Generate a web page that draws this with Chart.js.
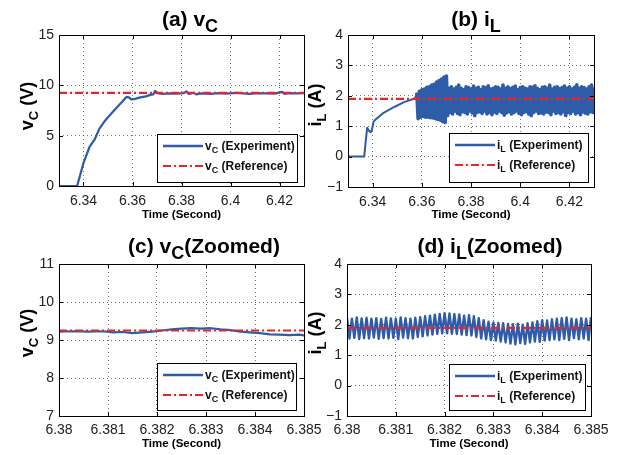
<!DOCTYPE html>
<html lang="en">
<head>
<meta charset="UTF-8">
<title>vC and iL start-up response</title>
<script src="https://cdn.jsdelivr.net/npm/chart.js"></script>
<style>
  body { margin: 0; background: #fff; }
  #wrap { position: relative; width: 624px; height: 455px; }
  #wrap canvas { position: absolute; left: 0; top: 0; }
</style>
</head>
<body>
<div id="wrap">
  <canvas id="pa" width="624" height="455"></canvas>
  <canvas id="pb" width="624" height="455"></canvas>
  <canvas id="pc" width="624" height="455"></canvas>
  <canvas id="pd" width="624" height="455"></canvas>
</div>
<script>
// ---- data ----
// (a) capacitor voltage over the full window
const vcTime = [6.33, 6.3374, 6.34, 6.3425, 6.3445, 6.3465, 6.3485, 6.351, 6.3532, 6.3555, 6.3575, 6.3585,
  6.3595, 6.361, 6.3632, 6.3655, 6.3672, 6.3685, 6.3692, 6.3705, 6.372, 6.375, 6.378, 6.381, 6.382, 6.383,
  6.385, 6.386, 6.388, 6.392, 6.395, 6.398, 6.402, 6.405, 6.408, 6.411, 6.414, 6.418, 6.421, 6.422, 6.424,
  6.427, 6.43];
const vcExp = [0, 0, 2.3, 3.9, 4.6, 5.7, 6.4, 7.1, 7.7, 8.3, 8.85, 8.8,
  8.6, 8.65, 8.8, 8.9, 9.05, 9.1, 9.45, 9.2, 9.15, 9.2, 9.18, 9.22, 9.4, 9.15,
  9.25, 9.1, 9.2, 9.15, 9.22, 9.18, 9.25, 9.2, 9.15, 9.22, 9.2, 9.18, 9.35, 9.15, 9.22,
  9.2, 9.22];
const vcRef = 9.25;

// (b) inductor current: start-up ramp, then ripple band (peak / trough pairs)
const ilRampTime = [6.33, 6.3366, 6.3372, 6.3378, 6.3385, 6.3392, 6.3398, 6.3404, 6.3412, 6.3441, 6.349, 6.353, 6.3572, 6.358];
const ilRamp = [0, 0, 0.5, 0.95, 0.85, 0.8, 0.9, 1.15, 1.22, 1.42, 1.64, 1.8, 1.91, 2.1];
const ilBandStart = 6.358;   // first ripple peak
const ilBandStep = 0.001;    // spacing of the plotted peaks
const ilPeaks = [2.1, 2.15, 2.2, 2.22, 2.28, 2.3, 2.35, 2.38, 2.45, 2.5, 2.55, 2.62, 2.65,
  2.25, 2.3, 2.22, 2.28, 2.35, 2.25, 2.2, 2.3, 2.27, 2.22,
  2.32, 2.25, 2.28, 2.2, 2.3, 2.26, 2.33, 2.22, 2.25, 2.3,
  2.28, 2.22, 2.35, 2.25, 2.3, 2.24, 2.28, 2.32, 2.2, 2.27,
  2.3, 2.25, 2.22, 2.3, 2.28, 2.33, 2.25, 2.2, 2.28, 2.3,
  2.25, 2.35, 2.22, 2.28, 2.3, 2.24, 2.27, 2.32, 2.25, 2.3,
  2.22, 2.28, 2.36, 2.25, 2.3, 2.27, 2.22, 2.3, 2.35, 2.28];
const ilTroughs = [1.25, 1.3, 1.32, 1.3, 1.3, 1.28, 1.27, 1.25, 1.22, 1.2, 1.15, 1.12, 1.35,
  1.45, 1.4, 1.5, 1.42, 1.38, 1.48, 1.45, 1.4, 1.5, 1.44,
  1.35, 1.45, 1.48, 1.42, 1.5, 1.4, 1.45, 1.38, 1.47, 1.42,
  1.5, 1.45, 1.36, 1.44, 1.48, 1.4, 1.45, 1.5, 1.42, 1.38,
  1.45, 1.48, 1.4, 1.35, 1.45, 1.5, 1.42, 1.44, 1.4, 1.47,
  1.45, 1.38, 1.5, 1.42, 1.45, 1.4, 1.48, 1.35, 1.45, 1.42,
  1.5, 1.4, 1.45, 1.38, 1.47, 1.43, 1.4, 1.48, 1.45];
const ilRef = 1.9;

// (c) capacitor voltage, zoomed
const vczTime = [6.38, 6.3803, 6.3806, 6.3809, 6.3811, 6.3813, 6.3815, 6.3817, 6.3819, 6.3821, 6.3823, 6.3825,
  6.3827, 6.3829, 6.3831, 6.3833, 6.3835, 6.3837, 6.3839, 6.3841, 6.3843, 6.3845, 6.3847, 6.3849, 6.385];
const vczExp = [9.22, 9.23, 9.22, 9.23, 9.2, 9.21, 9.18, 9.2, 9.22, 9.25, 9.28, 9.3,
  9.31, 9.3, 9.31, 9.28, 9.26, 9.22, 9.2, 9.18, 9.15, 9.14, 9.13, 9.14, 9.12];

// (d) inductor current, zoomed: one peak and one trough per switching period
const ilzStart = 6.38;
const ilzStep = 0.0001;
const ilzPeaks = [2.22, 2.2, 2.24, 2.21, 2.23, 2.2, 2.22, 2.19, 2.23, 2.21, 2.2, 2.24, 2.22, 2.2, 2.23,
  2.25, 2.28, 2.3, 2.33, 2.36, 2.38, 2.37, 2.35, 2.34, 2.3, 2.32, 2.28,
  2.22, 2.15, 2.1, 2.08, 2.06, 2.05, 2.03, 2.02, 2.04, 2.0, 2.05,
  2.08, 2.12, 2.15, 2.14, 2.18, 2.2, 2.22, 2.24, 2.2, 2.18, 2.22, 2.2, 2.25];
const ilzTroughs = [1.55, 1.57, 1.53, 1.56, 1.55, 1.58, 1.54, 1.56, 1.55, 1.57, 1.53, 1.58, 1.56, 1.55, 1.6,
  1.62, 1.65, 1.68, 1.7, 1.72, 1.72, 1.7, 1.7, 1.68, 1.66, 1.65, 1.6,
  1.55, 1.52, 1.5, 1.48, 1.45, 1.42, 1.38, 1.36, 1.4, 1.37, 1.42,
  1.45, 1.44, 1.48, 1.5, 1.52, 1.5, 1.54, 1.5, 1.56, 1.52, 1.55, 1.5];

// tick labels
const xTicksFull = [6.34, 6.36, 6.38, 6.4, 6.42];
const xTicksZoom = [6.38, 6.381, 6.382, 6.383, 6.384, 6.385];
const yTicksVc = [0, 5, 10, 15];
const yTicksVcZoom = [7, 8, 9, 10, 11];
const yTicksIl = [-1, 0, 1, 2, 3, 4];

// ---- styling ----
const BLUE = '#2f5ca8';
const RED = '#e8252b';
const FONT = "'Liberation Sans', Arial, sans-serif";
const Y_W = 40, X_H = 30;

function pts(xs, ys) {
  return xs.map((x, i) => ({ x: x, y: ys[i] }));
}
function ripple(start, step, peaks, troughs) {
  const out = [];
  peaks.forEach((p, i) => {
    out.push({ x: start + i * step, y: p });
    if (i < troughs.length) out.push({ x: start + (i + 0.5) * step, y: troughs[i] });
  });
  return out;
}

// draw a string made of parts, some of them lowered (subscripts)
function richWidth(ctx, parts) {
  let w = 0;
  parts.forEach(p => { ctx.font = 'bold ' + p.size + 'px ' + FONT; w += ctx.measureText(p.t).width; });
  return w;
}
function drawRich(ctx, parts, x, y) {
  ctx.textAlign = 'left';
  ctx.textBaseline = 'alphabetic';
  parts.forEach(p => {
    ctx.font = 'bold ' + p.size + 'px ' + FONT;
    ctx.fillText(p.t, x, y + (p.dy || 0));
    x += ctx.measureText(p.t).width;
  });
}

const panelDecor = {
  id: 'panelDecor',
  afterDatasetsDraw(chart, args, o) {
    const ctx = chart.ctx;
    const a = chart.chartArea;
    ctx.save();
    // frame + inward ticks on all sides
    ctx.strokeStyle = '#000';
    ctx.lineWidth = 1;
    ctx.strokeRect(Math.round(a.left) + 0.5, Math.round(a.top) + 0.5,
      Math.round(a.right - a.left), Math.round(a.bottom - a.top));
    const xs = chart.scales.x, ys = chart.scales.y;
    ctx.beginPath();
    xs.ticks.forEach(t => {
      const px = Math.round(xs.getPixelForValue(t.value)) + 0.5;
      ctx.moveTo(px, a.bottom); ctx.lineTo(px, a.bottom - 4);
      ctx.moveTo(px, a.top); ctx.lineTo(px, a.top + 4);
    });
    ys.ticks.forEach(t => {
      const py = Math.round(ys.getPixelForValue(t.value)) + 0.5;
      ctx.moveTo(a.left, py); ctx.lineTo(a.left + 4, py);
      ctx.moveTo(a.right, py); ctx.lineTo(a.right - 4, py);
    });
    ctx.stroke();

    // legend box
    const L = o.legend;
    ctx.fillStyle = '#fff';
    ctx.fillRect(L.x, L.y, L.w, L.h);
    ctx.strokeRect(L.x + 0.5, L.y + 0.5, L.w, L.h);
    ctx.strokeStyle = BLUE; ctx.lineWidth = 2.5;
    ctx.beginPath(); ctx.moveTo(L.x + 6, L.y + 12); ctx.lineTo(L.x + 46, L.y + 12); ctx.stroke();
    ctx.strokeStyle = RED; ctx.lineWidth = 2.2; ctx.setLineDash([8, 3, 2, 3]);
    ctx.beginPath(); ctx.moveTo(L.x + 6, L.y + 32); ctx.lineTo(L.x + 46, L.y + 32); ctx.stroke();
    ctx.setLineDash([]);
    ctx.fillStyle = '#111';
    drawRich(ctx, [{ t: o.sym, size: 12 }, { t: o.sub, size: 9, dy: 3 }, { t: ' (Experiment)', size: 12 }], L.x + 48, L.y + 16);
    drawRich(ctx, [{ t: o.sym, size: 12 }, { t: o.sub, size: 9, dy: 3 }, { t: ' (Reference)', size: 12 }], L.x + 48, L.y + 36);

    // title
    const tp = [{ t: o.title[0], size: 21 }, { t: o.title[1], size: 18, dy: 6 }];
    if (o.title[2]) tp.push({ t: o.title[2], size: 21 });
    ctx.fillStyle = '#000';
    drawRich(ctx, tp, o.titleX - richWidth(ctx, tp) / 2, o.titleY);

    // x axis title
    ctx.font = 'bold 11.5px ' + FONT;
    ctx.textAlign = 'center';
    ctx.fillText('Time (Second)', (a.left + a.right) / 2, o.xTitleY);

    // y axis title, rotated
    const yp = [{ t: o.sym, size: 18 }, { t: o.sub, size: 13, dy: 5 }, { t: ' (' + o.unit + ')', size: 18 }];
    ctx.translate(o.yTitleX, o.yTitleY);
    ctx.rotate(-Math.PI / 2);
    drawRich(ctx, yp, -richWidth(ctx, yp) / 2, 0);
    ctx.restore();
  }
};

// expSets: [{ data, width }] drawn in blue, refVal drawn as red dash-dot line
function makePanel(id, area, xMin, xMax, xTicks, yMin, yMax, yTicks, expSets, refVal, decor) {
  const fmt = v => (v < 0 ? '\u2212' + Math.abs(v) : String(v));
  const sets = [
    { data: [{ x: xMin, y: refVal }, { x: xMax, y: refVal }], showLine: true, borderColor: RED,
      borderWidth: 2.2, borderDash: [8, 3, 2, 3], pointRadius: 0, order: 0 }
  ];
  expSets.forEach(s => sets.push({ data: s.data, showLine: true, borderColor: BLUE, borderWidth: s.width,
    borderJoinStyle: 'round', pointRadius: 0, order: 1 }));
  return new Chart(document.getElementById(id), {
    type: 'scatter',
    data: { datasets: sets },
    options: {
      responsive: false,
      animation: false,
      devicePixelRatio: 1,
      layout: { padding: { left: area.l - Y_W, right: 624 - area.r, top: area.t, bottom: 455 - area.b - X_H } },
      plugins: { legend: { display: false }, title: { display: false }, tooltip: { enabled: false }, panelDecor: decor },
      scales: {
        x: {
          type: 'linear', min: xMin, max: xMax,
          afterBuildTicks: s => { s.ticks = xTicks.map(v => ({ value: v })); },
          afterFit: s => { s.height = X_H; },
          ticks: { callback: fmt, color: '#222', font: { family: FONT, size: 14 }, padding: decor.xPad, maxRotation: 0, autoSkip: false },
          grid: { color: 'rgba(0,0,0,0.55)', lineWidth: 1, drawTicks: false },
          border: { display: false, dash: [1, 3] }
        },
        y: {
          type: 'linear', min: yMin, max: yMax,
          afterBuildTicks: s => { s.ticks = yTicks.map(v => ({ value: v })); },
          afterFit: s => { s.width = Y_W; },
          ticks: { callback: fmt, color: '#222', font: { family: FONT, size: 14 }, padding: 5, autoSkip: false },
          grid: { color: 'rgba(0,0,0,0.55)', lineWidth: 1, drawTicks: false },
          border: { display: false, dash: [1, 3] }
        }
      }
    },
    plugins: [panelDecor]
  });
}

makePanel('pa', { l: 59, r: 304, t: 35, b: 186 }, 6.33, 6.43, xTicksFull, 0, 15, yTicksVc,
  [{ data: pts(vcTime, vcExp), width: 2.2 }], vcRef,
  { sym: 'v', sub: 'C', unit: 'V', title: ['(a) v', 'C'], titleX: 190, titleY: 26, xTitleY: 218,
    yTitleX: 33, yTitleY: 106, xPad: 7, legend: { x: 157, y: 134, w: 140, h: 48 } });

makePanel('pb', { l: 348, r: 594, t: 35, b: 187 }, 6.33, 6.43, xTicksFull, -1, 4, yTicksIl,
  [{ data: pts(ilRampTime, ilRamp), width: 2 },
   { data: ripple(ilBandStart, ilBandStep, ilPeaks, ilTroughs), width: 3.6 }], ilRef,
  { sym: 'i', sub: 'L', unit: 'A', title: ['(b) i', 'L'], titleX: 476, titleY: 26, xTitleY: 218,
    yTitleX: 321, yTitleY: 105, xPad: 7, legend: { x: 449, y: 133, w: 139, h: 49 } });

makePanel('pc', { l: 59, r: 304, t: 264, b: 416 }, 6.38, 6.385, xTicksZoom, 7, 11, yTicksVcZoom,
  [{ data: pts(vczTime, vczExp), width: 2.2 }], vcRef,
  { sym: 'v', sub: 'C', unit: 'V', title: ['(c) v', 'C', '(Zoomed)'], titleX: 204, titleY: 253, xTitleY: 447,
    yTitleX: 33, yTitleY: 333, xPad: 6, legend: { x: 157, y: 363, w: 139, h: 47 } });

makePanel('pd', { l: 347, r: 591, t: 264, b: 416 }, 6.38, 6.385, xTicksZoom, -1, 4, yTicksIl,
  [{ data: ripple(ilzStart, ilzStep, ilzPeaks, ilzTroughs), width: 2.4 }], ilRef,
  { sym: 'i', sub: 'L', unit: 'A', title: ['(d) i', 'L', '(Zoomed)'], titleX: 490, titleY: 253, xTitleY: 447,
    yTitleX: 321, yTitleY: 333, xPad: 6, legend: { x: 449, y: 364, w: 136, h: 46 } });
</script>
</body>
</html>
